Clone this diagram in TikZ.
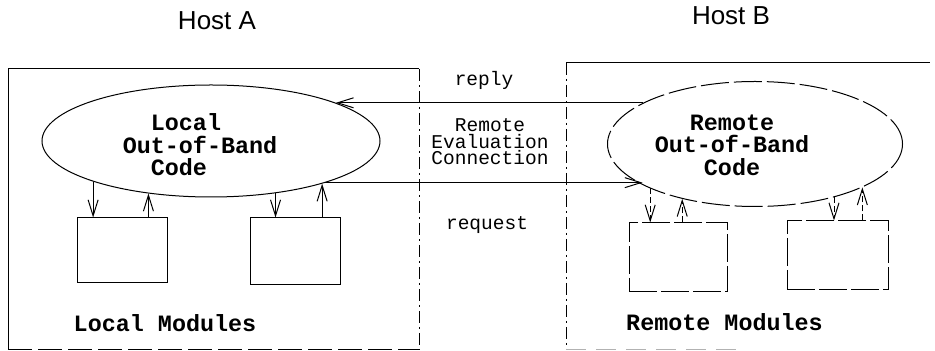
\documentclass[tikz,border=0pt]{standalone}
\usepackage{fontspec}
\setmonofont{Liberation Mono}
\newfontfamily\hostfont{Liberation Sans}
\usetikzlibrary{arrows.meta, shapes.geometric}
\tikzset{
  % --- host areas ---
  hostedge/.style={line width=0.5pt},
  hostsplit/.style={line width=0.5pt, dash pattern=on 6pt off 2pt on 1pt off 2pt},
  hostlabel/.style={font=\hostfont\fontsize{13}{15}\selectfont, inner sep=0pt},
  % --- out-of-band code ---
  oob/.style={draw, ellipse, line width=0.5pt, inner sep=0pt},
  oobremote/.style={oob, dash pattern=on 14pt off 2.5pt},
  oobtext/.style={font=\ttfamily\bfseries\fontsize{11.7}{11.3}\selectfont, inner sep=0pt},
  % --- module boxes ---
  module/.style={draw, rectangle, line width=0.5pt, inner sep=0pt},
  moduleremote/.style={module, dash pattern=on 14pt off 2pt},
  % --- connections ---
  call/.style={-{Straight Barb[length=8pt, width=5pt]}, line width=0.5pt},
  callremote/.style={call, dash pattern=on 3pt off 1.5pt},
  linktext/.style={font=\ttfamily\fontsize{9.75}{8.3}\selectfont, align=center, inner sep=0pt},
}

\begin{document}
\begin{tikzpicture}[x=0.5pt, y=-0.5pt]
    \useasboundingbox (0,0) rectangle (935,351);
    % host areas
    \draw[hostedge] (419,69) -- (8,69) -- (8,350);
    \draw[hostedge, dash pattern=on 12pt off 3pt] (8,350) -- (419,350);
    \draw[hostsplit] (419,69) -- (419,350);
    \draw[hostedge] (566,63) -- (930,63);
    \draw[hostsplit] (566,63) -- (566,350);
    \draw[hostedge, gray!60, dash pattern=on 10pt off 5pt] (566,350) -- (740,350);
    \node[hostlabel] (hosta) at (217,21) {Host A};
    \node[hostlabel] (hostb) at (731,16) {Host B};
    % out-of-band code
    \node[oob, minimum width=169pt, minimum height=56pt] (local) at (211,141) {};
    \node[oobremote, minimum width=147.5pt, minimum height=62.5pt] (remote) at (755,144) {};
    \node[oobtext, align=left] (localtxt) at (200,145) {\phantom{Ou}Local\\Out-of-Band\\\phantom{Ou}Code};
    \node[oobtext, align=center] (remotetxt) at (732,145) {Remote\\Out-of-Band\\Code};
    % modules
    \node[module, minimum width=45pt, minimum height=32.5pt] (lm1) at (122,250.5) {};
    \node[module, minimum width=45pt, minimum height=33.5pt] (lm2) at (295,251.5) {};
    \node[moduleremote, minimum width=49pt, minimum height=34.5pt] (rm1) at (678,257.5) {};
    \node[moduleremote, minimum width=50.5pt, minimum height=34.5pt] (rm2) at (837.5,255.5) {};
    \node[oobtext] (lmods) at (165,323) {Local Modules};
    \node[oobtext] (rmods) at (724.5,322) {Remote Modules};
    % calls between code and modules
    \draw[call] (local.199) -- (local.199 |- lm1.north);
    \draw[call] (lm1.north -| local.220) -- (local.220);
    \draw[call] (local.321) -- (local.321 |- lm2.north);
    \draw[call] (lm2.north -| local.339.5) -- (local.339.5);
    \draw[callremote] (remote.203) -- (remote.203 |- rm1.north);
    \draw[callremote] (rm1.north -| remote.217) -- (remote.217);
    \draw[callremote] (remote.326) -- (remote.326 |- rm2.north);
    \draw[callremote] (rm2.north -| remote.338.7) -- (remote.338.7);
    % remote evaluation connection
    \draw[call] (remote.160 |- local.17) -- (local.17);
    \draw[call] (local.340) -- (local.340 -| remote.200);
    \node[linktext] (reply) at (484,80) {reply};
    \node[linktext] (rec) at (490,142) {Remote\\Evaluation\\Connection};
    \node[linktext] (request) at (487,225) {request};
\end{tikzpicture}
\end{document}
